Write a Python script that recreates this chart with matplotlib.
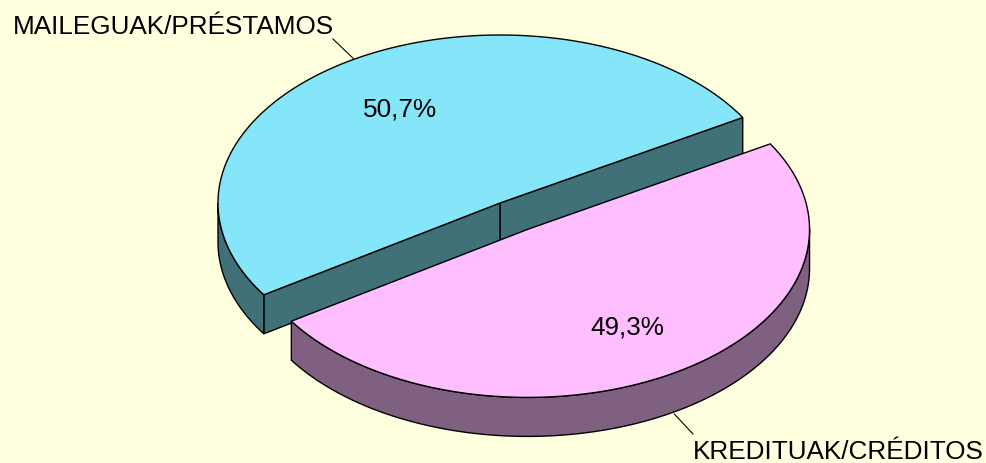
import numpy as np
import matplotlib
matplotlib.use("Agg")
import matplotlib.pyplot as plt
from matplotlib.patches import Polygon

plt.rcParams['font.family'] = ['Liberation Sans', 'DejaVu Sans']

# Datuak / datos
labels = ["MAILEGUAK/PRÉSTAMOS", "KREDITUAK/CRÉDITOS"]
shares = [50.7, 49.3]
pct_text = ["50,7%", "49,3%"]

top_colors = ["#84E6F8", "#FFBEFF"]
side_colors = ["#407078", "#806080"]
bg = "#FFFFE0"

# 3D pie geometry (pixel units)
cx, cy = 500, 203
a, b = 282, 168
depth = 39
start = 30.6
explode = [0.0, 0.185]


def pt(x0, y0, t, dz=0):
    r = np.radians(t)
    return x0 + a * np.cos(r), y0 - b * np.sin(r) + dz


def arc(x0, y0, t1, t2, dz=0, n=200):
    ts = np.linspace(t1, t2, n)
    return [pt(x0, y0, t, dz) for t in ts]


fig = plt.figure(figsize=(9.86, 4.63), dpi=100, facecolor=bg)
ax = fig.add_axes([0, 0, 1, 1])
ax.set_xlim(0, 986)
ax.set_ylim(463, 0)
ax.set_facecolor(bg)
ax.axis("off")

lw = 1.0
t = start
for i, s in enumerate(shares):
    t1 = t
    t2 = t + s / 100 * 360
    t = t2
    mid = (t1 + t2) / 2
    m = np.radians(mid)
    x0 = cx + explode[i] * a * np.cos(m)
    y0 = cy - explode[i] * b * np.sin(m)

    # radial faces
    if np.cos(np.radians(t1)) > 0:
        p = pt(x0, y0, t1)
        ax.add_patch(Polygon([(x0, y0), p, (p[0], p[1] + depth), (x0, y0 + depth)],
                             closed=True, fc=side_colors[i], ec="black", lw=lw))
    if np.cos(np.radians(t2)) < 0:
        p = pt(x0, y0, t2)
        ax.add_patch(Polygon([(x0, y0), p, (p[0], p[1] + depth), (x0, y0 + depth)],
                             closed=True, fc=side_colors[i], ec="black", lw=lw))

    # outer wall (front half only)
    for lo, hi in [(180, 360), (540, 720)]:
        wa, wb = max(t1, lo), min(t2, hi)
        if wa < wb:
            top = arc(x0, y0, wa, wb)
            bot = arc(x0, y0, wa, wb, depth)[::-1]
            ax.add_patch(Polygon(top + bot, closed=True, fc=side_colors[i],
                                 ec="black", lw=lw))

    # top face
    ax.add_patch(Polygon([(x0, y0)] + arc(x0, y0, t1, t2), closed=True,
                         fc=top_colors[i], ec="black", lw=lw))

    # percentage inside
    px = x0 + 0.67 * a * np.cos(m)
    py = y0 - 0.67 * b * np.sin(m)
    ax.text(px, py + 9.5, pct_text[i], ha="center", va="baseline", fontsize=18.8)

    # leader line + category label
    if np.sin(m) > 0:
        ex, ey = pt(x0, y0, mid)
        ax.plot([ex + 2, 333], [ey - 2, 39], color="black", lw=0.8)
        ax.text(12.5, 34, labels[i], ha="left", va="baseline", fontsize=18.8)
    else:
        ex, ey = pt(x0, y0, mid, depth)
        ax.plot([ex - 2, 693], [ey + 3, 434], color="black", lw=0.8)
        ax.text(693, 459, labels[i], ha="left", va="baseline", fontsize=18.8)

fig.savefig("out.png", dpi=100, facecolor=bg)
